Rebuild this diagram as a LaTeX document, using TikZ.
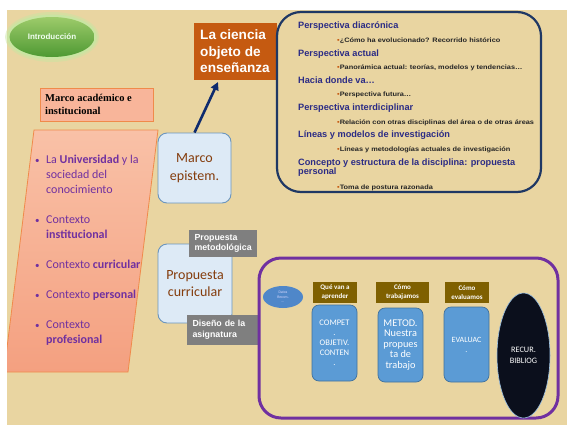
\documentclass[tikz,border=0pt]{standalone}
\usepackage{fontspec}
\setmainfont{Liberation Sans}
\newfontfamily\calfont{Carlito}
\newfontfamily\serfont{Liberation Serif}
\newfontfamily\widefont[FakeStretch=1.15]{Liberation Sans}
\usetikzlibrary{shapes.geometric,arrows.meta,calc}
\definecolor{bgtan}{HTML}{E9D5A1}
\definecolor{glowgreen}{HTML}{C9E5A2}
\definecolor{greentop}{HTML}{9DCB6A}
\definecolor{greenbot}{HTML}{4E9933}
\definecolor{salmon}{HTML}{F8B59A}
\definecolor{salmontop}{HTML}{F9C1A7}
\definecolor{salmonbot}{HTML}{F4A080}
\definecolor{orangeline}{HTML}{F08A4B}
\definecolor{rust}{HTML}{C55A11}
\definecolor{navy}{HTML}{1F3864}
\definecolor{arrownavy}{HTML}{0E2B6E}
\definecolor{headblue}{HTML}{2B2B85}
\definecolor{purptext}{HTML}{7030A0}
\definecolor{lightblue}{HTML}{DDEAF6}
\definecolor{lbline}{HTML}{6A95BE}
\definecolor{browntext}{HTML}{843C0C}
\definecolor{greylab}{HTML}{7F7F7F}
\definecolor{framepurple}{HTML}{7030A0}
\definecolor{datosblue}{HTML}{4F87C9}
\definecolor{hdrbrown}{HTML}{7F6000}
\definecolor{boxblue}{HTML}{5B9BD5}
\definecolor{boxline}{HTML}{41719C}
\definecolor{nightblack}{HTML}{0B0F1C}
\definecolor{paleblue}{HTML}{9DC3E6}
\begin{document}
\begin{tikzpicture}[x=1pt,y=-1pt,
  head/.style={anchor=base west, inner sep=0, text=headblue, font=\bfseries\fontsize{9.2}{9}\selectfont},
  sub/.style={anchor=base west, inner sep=0, text=black!85, font=\widefont\bfseries\fontsize{6.4}{7}\selectfont},
  ctx/.style={anchor=base west, inner sep=0, text=purptext, font=\calfont\fontsize{12}{15}\selectfont},
  ctxbul/.style={anchor=base west, inner sep=0, text=purptext, font=\calfont\fontsize{9}{15}\selectfont},
  lbbox/.style={draw=lbline, fill=lightblue, rounded corners=9pt, line width=0.9pt, inner sep=0,
    text=browntext, align=center, font=\calfont\fontsize{14}{17.5}\selectfont},
  greybox/.style={fill=greylab, text=white, align=left, inner xsep=5.5pt, inner ysep=0pt,
    font=\bfseries\fontsize{8.8}{10.6}\selectfont},
  hdr/.style={fill=hdrbrown, text=white, align=center, inner sep=0, minimum height=21pt,
    font=\calfont\bfseries\fontsize{7}{9}\selectfont},
  bluebox/.style={fill=boxblue, draw=boxline, line width=0.7pt, rounded corners=7pt, text=white,
    align=center, inner sep=0, minimum width=45pt}
]
\useasboundingbox (0,0) rectangle (567,426);
% background
\fill[bgtan] (7,10) rectangle (567,425);

% Introduccion
\node[ellipse, fill=glowgreen, opacity=0.5, minimum width=94pt, minimum height=50pt] (introglow2) at (52,37) {};
\node[ellipse, fill=glowgreen, minimum width=90pt, minimum height=45pt] (introglow) at (52,37) {};
\node[ellipse, top color=greentop, bottom color=greenbot, minimum width=85pt, minimum height=40pt,
  inner sep=0, text=white!95!green, font=\bfseries\fontsize{8}{9}\selectfont] (intro) at (52,37) {Introducción};

% Marco academico
\node[draw=orangeline, fill=salmon, line width=0.8pt, minimum width=113pt, minimum height=33pt,
  anchor=north west, inner sep=0] (marcoac) at (40,88) {};
\node[anchor=base west, inner sep=0, align=left, font=\serfont\bfseries\fontsize{10.5}{12.5}\selectfont]
  (marcoactxt) at (45,114) {Marco académico e\\institucional};

% parallelogram
\begin{scope}
\clip (7,10) rectangle (567,425);
\draw[orangeline, line width=0.8pt, top color=salmontop, bottom color=salmonbot]
  (34,130) -- (158,130) -- (128,372) -- (4,372) -- cycle;
\end{scope}
\node[ctxbul] (b1) at (35,163) {•};
\node[ctx] (c1a) at (46,163) {La \textbf{Universidad} y la};
\node[ctx] (c1b) at (46,178) {sociedad del};
\node[ctx] (c1c) at (46,193) {conocimiento};
\node[ctxbul] (b2) at (35,223) {•};
\node[ctx] (c2a) at (46,223) {Contexto};
\node[ctx] (c2b) at (46,238) {\textbf{institucional}};
\node[ctxbul] (b3) at (35,268) {•};
\node[ctx] (c3) at (46,268) {Contexto \textbf{curricular}};
\node[ctxbul] (b4) at (35,298) {•};
\node[ctx] (c4) at (46,298) {Contexto \textbf{personal}};
\node[ctxbul] (b5) at (35,328) {•};
\node[ctx] (c5a) at (46,328) {Contexto};
\node[ctx] (c5b) at (46,343) {\textbf{profesional}};

% La ciencia
\node[fill=rust, minimum width=83pt, minimum height=57pt, anchor=north west, inner sep=0] (cien) at (194,23) {};
\node[anchor=base west, inner sep=0, text=white, align=left, font=\bfseries\fontsize{13.6}{16.7}\selectfont]
  (cientxt) at (200,72.7) {La ciencia\\objeto de\\enseñanza};

% Marco epistem
\node[lbbox, minimum width=73pt, minimum height=70pt] (ep) at (194.5,168) {Marco\\epistem.};
\coordinate (tip) at (218,82);
\draw[arrownavy, line width=2.6pt, -{Triangle[length=8pt,width=8pt]}] (ep.north) -- (tip);

% Propuesta curricular
\node[lbbox, minimum width=74pt, minimum height=79pt] (pc) at (195,283.5) {Propuesta\\curricular};
\node[greybox, text width=57pt, minimum height=27pt] (pm) at (223,243.5) {Propuesta\\metodológica};
\node[greybox, text width=62pt, minimum height=30pt] (ds) at (223.5,330) {Diseño de la\\asignatura};

% Perspectivas frame
\draw[navy, line width=2.2pt, rounded corners=24pt] (277,12) rectangle (541,192);
\node[head] (h1) at (298,28.5) {Perspectiva diacrónica};
\node[sub] (s1) at (337,42) {\textcolor{rust}{•}¿Cómo ha evolucionado? Recorrido histórico};
\node[head] (h2) at (298,56) {Perspectiva actual};
\node[sub] (s2) at (337,69.5) {\textcolor{rust}{•}Panorámica actual: teorías, modelos y tendencias…};
\node[head] (h3) at (298,83) {Hacia donde va…};
\node[sub] (s3) at (337,96.5) {\textcolor{rust}{•}Perspectiva futura…};
\node[head] (h4) at (298,110.5) {Perspectiva interdiciplinar};
\node[sub] (s4) at (337,124) {\textcolor{rust}{•}Relación con otras disciplinas del área o de otras áreas};
\node[head] (h5) at (298,137.5) {Líneas y modelos de investigación};
\node[sub] (s5) at (337,151.5) {\textcolor{rust}{•}Líneas y metodologías actuales de investigación};
\node[head] (h6a) at (298,165.5) {Concepto y estructura de la disciplina: propuesta};
\node[head] (h6b) at (298,174.5) {personal};
\node[sub] (s6) at (337,189) {\textcolor{rust}{•}Toma de postura razonada};

% Purple frame
\draw[framepurple, line width=3pt, rounded corners=22pt] (259,258) rectangle (558,418);

\node[ellipse, fill=datosblue, minimum width=40pt, minimum height=22pt, inner sep=0, text=white!85!blue,
  align=center, font=\calfont\fontsize{3.8}{4.6}\selectfont] (datos) at (283,297) {Datos\\Recom.\\…};

\node[hdr, minimum width=44pt] (q1) at (335,292) {Qué van a\\aprender};
\node[hdr, minimum width=53pt] (q2) at (402.5,292.5) {Cómo\\trabajamos};
\node[hdr, minimum width=44pt] (q3) at (467,292.5) {Cómo\\evaluamos};

\node[bluebox, minimum height=76pt, font=\calfont\fontsize{8.5}{10}\selectfont] (bx1) at (334.5,343)
  {COMPET\\.\\OBJETIV.\\CONTEN\\.};
\node[bluebox, minimum height=74pt, font=\calfont\fontsize{10.3}{10.5}\selectfont] (bx2) at (400.5,345)
  {METOD.\\Nuestra\\propues\\ta de\\trabajo};
\node[bluebox, minimum height=75pt, font=\calfont\fontsize{8}{10}\selectfont] (bx3) at (466.5,344.5)
  {EVALUAC\\.};

\node[ellipse, fill=nightblack, draw=paleblue, line width=0.6pt, minimum width=53pt, minimum height=125pt,
  inner sep=0, text=white, align=center, font=\calfont\fontsize{8.3}{11}\selectfont] (rec) at (523.5,355.5)
  {RECUR.\\BIBLIOG};
\end{tikzpicture}
\end{document}
